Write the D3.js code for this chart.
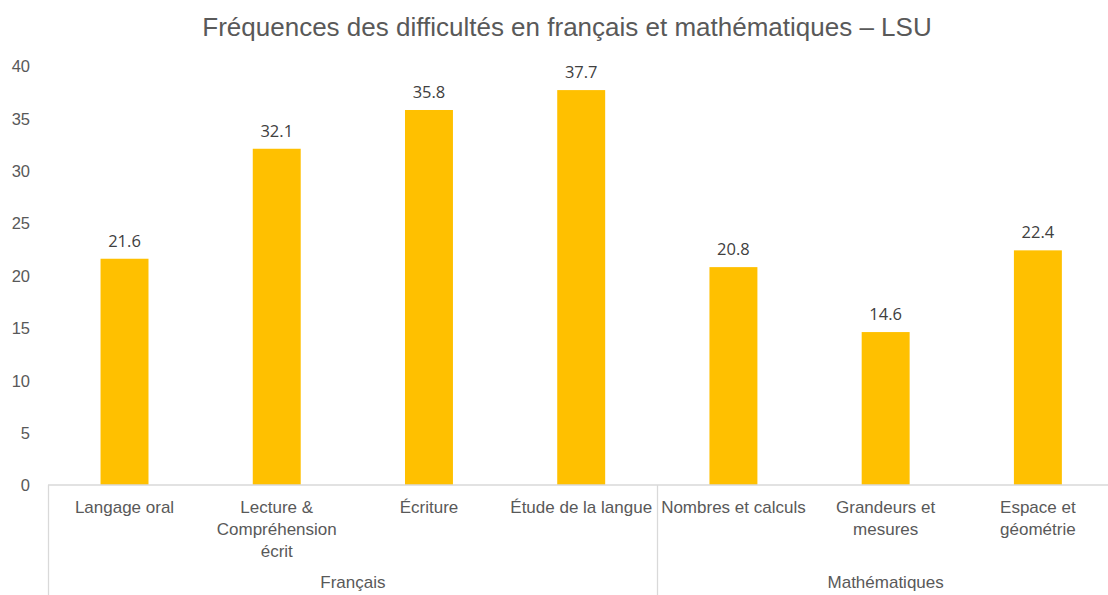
<!DOCTYPE html>
<html><head><meta charset="utf-8">
<script src="https://cdn.jsdelivr.net/npm/d3@7"></script>
<style>body{margin:0;background:#fff;} svg{display:block;}</style>
</head><body>
<script>
const categories = [["Langage oral"], ["Lecture &", "Compréhension", "écrit"], ["Écriture"], ["Étude de la langue"], ["Nombres et calculs"], ["Grandeurs et", "mesures"], ["Espace et", "géométrie"]];
const values = [21.6, 32.1, 35.8, 37.7, 20.8, 14.6, 22.4];
const groups = ["Français", "Mathématiques"];
const groupSizes = [4, 3];
const yTicks = [0, 5, 10, 15, 20, 25, 30, 35, 40];
const title = "Fréquences des difficultés en français et mathématiques – LSU";

const W = 1108, H = 595;
const svg = d3.select("body").append("svg").attr("width", W).attr("height", H);
const font = "'Liberation Sans', Arial, sans-serif";
const ids = categories.map((c, i) => i);
const x = d3.scaleBand().domain(ids).range([48.4, 1114]).paddingInner(0.685).paddingOuter(0.3425);
const y = d3.scaleLinear().domain([0, 40]).range([485, 66]);

svg.append("text").attr("x", 567).attr("y", 36).attr("text-anchor", "middle")
  .attr("font-family", font).attr("font-size", 26).attr("fill", "#595959").text(title);

// y axis tick labels
const yAxis = d3.axisLeft(y).tickValues(yTicks).tickSize(0).tickPadding(0);
const gy = svg.append("g").attr("transform", "translate(30,0)").call(yAxis);
gy.select(".domain").remove();
gy.selectAll("text").attr("font-family", font).attr("font-size", 16.5).attr("fill", "#595959").attr("dy", "0.35em");

// bars
svg.append("g").selectAll("rect").data(values).join("rect")
  .attr("x", (d, i) => x(i)).attr("width", x.bandwidth())
  .attr("y", d => y(d)).attr("height", d => y(0) - y(d)).attr("fill", "#FFC000");

// data labels
svg.append("g").selectAll("text").data(values).join("text")
  .attr("x", (d, i) => x(i) + x.bandwidth() / 2).attr("y", d => y(d) - 12)
  .attr("text-anchor", "middle").attr("font-family", "'Open Sans', sans-serif").attr("font-size", 16.5)
  .attr("fill", "#404040").text(d => d.toFixed(1));

// x axis lines
const lineC = "#d9d9d9";
svg.append("line").attr("x1", 48).attr("x2", W).attr("y1", 485).attr("y2", 485).attr("stroke", lineC).attr("stroke-width", 1.3);
const step = x.step();
const x0 = 48.4;
let cum = 0;
const bounds = [x0];
groupSizes.forEach(s => { cum += s; bounds.push(x0 + cum * step); });
bounds.slice(0, 2).forEach(b => {
  svg.append("line").attr("x1", Math.round(b) + 0.5).attr("x2", Math.round(b) + 0.5).attr("y1", 485).attr("y2", H).attr("stroke", lineC).attr("stroke-width", 1.3);
});

// category labels
const cat = svg.append("g").selectAll("text").data(categories).join("text")
  .attr("x", (d, i) => x(i) + x.bandwidth() / 2).attr("y", 513)
  .attr("text-anchor", "middle").attr("font-family", font).attr("font-size", 17).attr("fill", "#595959");
cat.each(function(d, i) {
  const t = d3.select(this);
  d.forEach((line, k) => t.append("tspan").attr("x", x(i) + x.bandwidth() / 2).attr("dy", k === 0 ? 0 : 22).text(line));
});

// group labels
groups.forEach((g, k) => {
  svg.append("text").attr("x", (bounds[k] + bounds[k + 1]) / 2).attr("y", 588)
    .attr("text-anchor", "middle").attr("font-family", font).attr("font-size", 17).attr("fill", "#595959").text(g);
});
</script>
</body></html>
